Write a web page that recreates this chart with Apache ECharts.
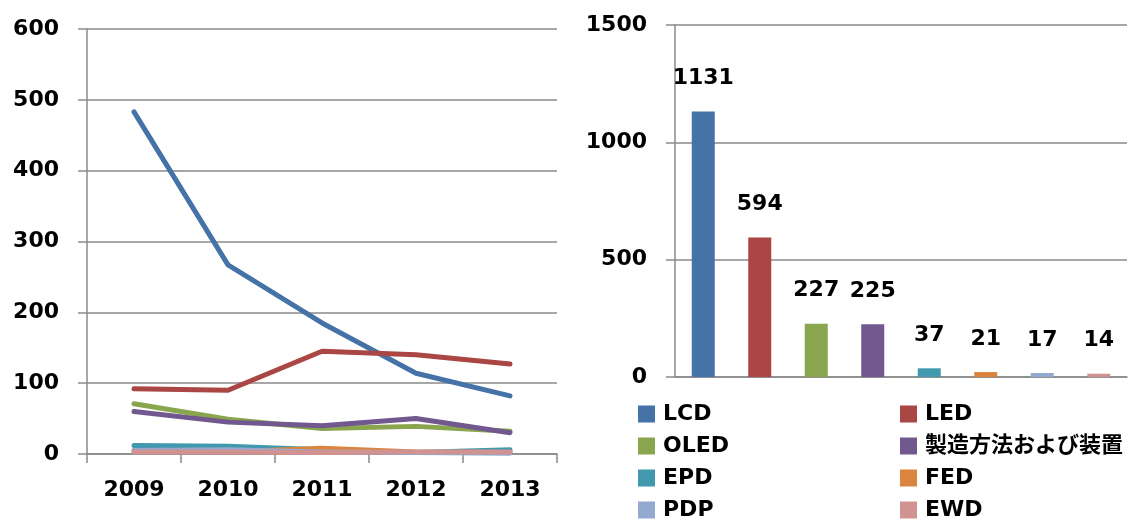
<!DOCTYPE html>
<html>
<head>
<meta charset="utf-8">
<script src="https://cdn.jsdelivr.net/npm/echarts@6/dist/echarts.min.js"></script>
<style>
html,body{margin:0;padding:0;background:#fff;}
#chart{width:1142px;height:519px;}
</style>
</head>
<body>
<div id="chart"></div>
<script>
// ---- data ----
const years = ['2009', '2010', '2011', '2012', '2013'];
const seriesNames = ['LCD', 'LED', 'OLED', '製造方法および装置', 'EPD', 'FED', 'PDP', 'EWD'];
const colors = ['#4572A7', '#AA4643', '#89A54E', '#71588F', '#4198AF', '#DB843D', '#93A9CF', '#D19392'];
const lcd = [483, 267, 185, 114, 82];
const led = [92, 90, 145, 140, 127];
const oled = [71, 49, 36, 39, 32];
const seizo = [60, 45, 40, 50, 30];
const epd = [12, 11, 6, 2, 6];
const fed = [5, 3, 8, 3, 2];
const pdp = [5, 6, 3, 2, 1];
const ewd = [3, 3, 2, 3, 3];
const totals = [1131, 594, 227, 225, 37, 21, 17, 14];
const leftTicks = [0, 600, 100];
const rightTicks = [0, 1500, 500];

const lineData = [lcd, led, oled, seizo, epd, fed, pdp, ewd];
const FONT = '"DejaVu Sans", "Noto Sans CJK JP", sans-serif';
const FS = 22;
const gridColor = '#8a8a8a';

const chart = echarts.init(document.getElementById('chart'));

const lineSeries = seriesNames.map((n, i) => ({
  name: n,
  type: 'line',
  xAxisIndex: 0,
  yAxisIndex: 0,
  data: lineData[i],
  showSymbol: false,
  symbol: 'none',
  color: colors[i],
  lineStyle: { width: 5, color: colors[i], cap: 'round', join: 'round' },
  z: 2 + i
}));

const barSeries = {
  name: 'total',
  type: 'bar',
  xAxisIndex: 1,
  yAxisIndex: 1,
  barWidth: 23,
  data: totals.map((v, i) => ({ value: v, itemStyle: { color: colors[i] } })),
  label: {
    show: true,
    position: 'top',
    distance: 22,
    color: '#000',
    fontFamily: FONT,
    fontWeight: 'bold',
    fontSize: FS
  }
};

const axisLabelStyle = { color: '#000', fontFamily: FONT, fontWeight: 'bold', fontSize: FS, formatter: v => String(v) };

const legendText = { color: '#000', fontFamily: FONT, fontWeight: 'bold', fontSize: FS, padding: [0, 0, 0, 3] };

chart.setOption({
  animation: false,
  backgroundColor: '#fff',
  textStyle: { fontFamily: FONT },
  grid: [
    { left: 87, right: 585, top: 29, bottom: 65 },
    { left: 675, right: 15, top: 25, bottom: 142 }
  ],
  xAxis: [
    {
      gridIndex: 0, type: 'category', data: years, boundaryGap: true,
      axisLine: { lineStyle: { color: gridColor, width: 1.5 } },
      axisTick: { show: true, length: 9, lineStyle: { color: gridColor, width: 1.5 } },
      axisLabel: Object.assign({}, axisLabelStyle, { margin: 25 })
    },
    {
      gridIndex: 1, type: 'category', data: seriesNames, boundaryGap: true,
      axisLine: { lineStyle: { color: gridColor, width: 1.5 } },
      axisTick: { show: false },
      axisLabel: { show: false }
    }
  ],
  yAxis: [
    {
      gridIndex: 0, type: 'value', min: leftTicks[0], max: leftTicks[1], interval: leftTicks[2],
      axisLine: { show: true, lineStyle: { color: gridColor, width: 1.5 } },
      axisTick: { show: true, length: 9, lineStyle: { color: gridColor, width: 1.5 } },
      splitLine: { show: true, lineStyle: { color: gridColor, width: 1.5 } },
      axisLabel: Object.assign({}, axisLabelStyle, { margin: 28 })
    },
    {
      gridIndex: 1, type: 'value', min: rightTicks[0], max: rightTicks[1], interval: rightTicks[2],
      axisLine: { show: true, lineStyle: { color: gridColor, width: 1.5 } },
      axisTick: { show: true, length: 9, lineStyle: { color: gridColor, width: 1.5 } },
      splitLine: { show: true, lineStyle: { color: gridColor, width: 1.5 } },
      axisLabel: Object.assign({}, axisLabelStyle, { margin: 28 })
    }
  ],
  legend: [
    {
      data: [seriesNames[0], seriesNames[2], seriesNames[4], seriesNames[6]],
      orient: 'vertical', left: 638, top: 403, height: 160, padding: 0, itemGap: 10,
      icon: 'rect', itemWidth: 17, itemHeight: 17,
      selectedMode: false,
      textStyle: legendText
    },
    {
      data: [seriesNames[1], seriesNames[3], seriesNames[5], seriesNames[7]],
      orient: 'vertical', left: 900, top: 403, height: 160, padding: 0, itemGap: 10,
      icon: 'rect', itemWidth: 17, itemHeight: 17,
      selectedMode: false,
      textStyle: legendText
    }
  ],
  series: lineSeries.concat([barSeries])
});
</script>
</body>
</html>
